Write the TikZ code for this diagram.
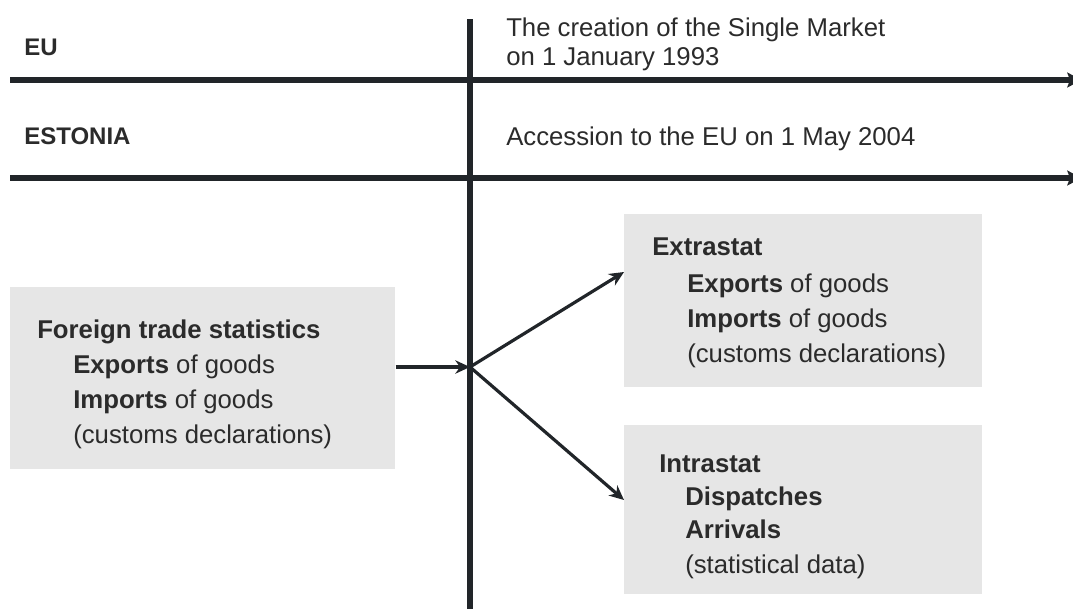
\documentclass[tikz,border=0pt]{standalone}
\usepackage{fontspec}
\setmainfont{Liberation Sans}
\usetikzlibrary{arrows.meta}
\definecolor{ink}{HTML}{212529}
\definecolor{txtc}{HTML}{2B2B2B}
\definecolor{boxfill}{HTML}{E6E6E6}
\begin{document}
\begin{tikzpicture}[x=0.75pt,y=-0.75pt,
  lbl/.style={inner sep=0pt, anchor=base west, text=txtc, font=\fontsize{19.3}{26}\selectfont},
  head/.style={inner sep=0pt, anchor=base west, text=txtc, font=\bfseries\fontsize{18}{22}\selectfont},
  graybox/.style={draw=none, fill=boxfill, inner sep=0pt, anchor=north west},
  timeline/.style={draw=ink, line width=3.8pt, -{Stealth[length=11pt,width=11pt,inset=2pt]}},
  axis/.style={draw=ink, line width=4.4pt},
  conn/.style={draw=ink, line width=2.4pt, -{Stealth[length=11pt,width=10pt,inset=3.5pt]}}]
\useasboundingbox (0,0) rectangle (1073,608);
\clip (0,0) rectangle (1073,608);

% boxes
\node[graybox, minimum width=288.75pt, minimum height=136.5pt] (src) at (10,287) {};
\node[graybox, minimum width=268.5pt, minimum height=129.75pt] (ext) at (624,214) {};
\node[graybox, minimum width=268.5pt, minimum height=126.75pt] (intr) at (624,425) {};

% axis and timelines
\coordinate (vtop) at (470,19);
\coordinate (vbot) at (470,612);
\draw[axis] (vtop) -- (vbot);
\coordinate (l1s) at (10,80);
\coordinate (l1e) at (1082,80);
\coordinate (l2s) at (10,178);
\coordinate (l2e) at (1082,178);
\draw[timeline] (l1s) -- (l1e);
\draw[timeline] (l2s) -- (l2e);

% header texts
\node[head] (eu) at (24,55) {EU};
\node[head] (est) at (24,144) {ESTONIA};
\node[lbl] (sm1) at (506,36) {The creation of the Single Market};
\node[lbl] (sm2) at (506,65) {on 1 January 1993};
\node[lbl] (acc) at (506,145) {Accession to the EU on 1 May 2004};

% left box text
\node[lbl] (f1) at (37,338) {\textbf{Foreign trade statistics}};
\node[lbl] (f2) at (73,373) {\textbf{Exports} of goods};
\node[lbl] (f3) at (73,408) {\textbf{Imports} of goods};
\node[lbl] (f4) at (73,443) {(customs declarations)};

% extrastat text
\node[lbl] (e1) at (652,255) {\textbf{Extrastat}};
\node[lbl] (e2) at (687,292) {\textbf{Exports} of goods};
\node[lbl] (e3) at (687,327) {\textbf{Imports} of goods};
\node[lbl] (e4) at (687,362) {(customs declarations)};

% intrastat text
\node[lbl] (i1) at (659,472) {\textbf{Intrastat}};
\node[lbl] (i2) at (685,505) {\textbf{Dispatches}};
\node[lbl] (i3) at (685,538) {\textbf{Arrivals}};
\node[lbl] (i4) at (685,573) {(statistical data)};

% connectors
\coordinate (hub) at (470,367);
\coordinate (t1) at (624,272);
\coordinate (t2) at (624,500);
\draw[conn] (src.east |- hub) -- (hub);
\draw[conn] (hub) -- (t1);
\draw[conn] (hub) -- (t2);
\end{tikzpicture}
\end{document}
